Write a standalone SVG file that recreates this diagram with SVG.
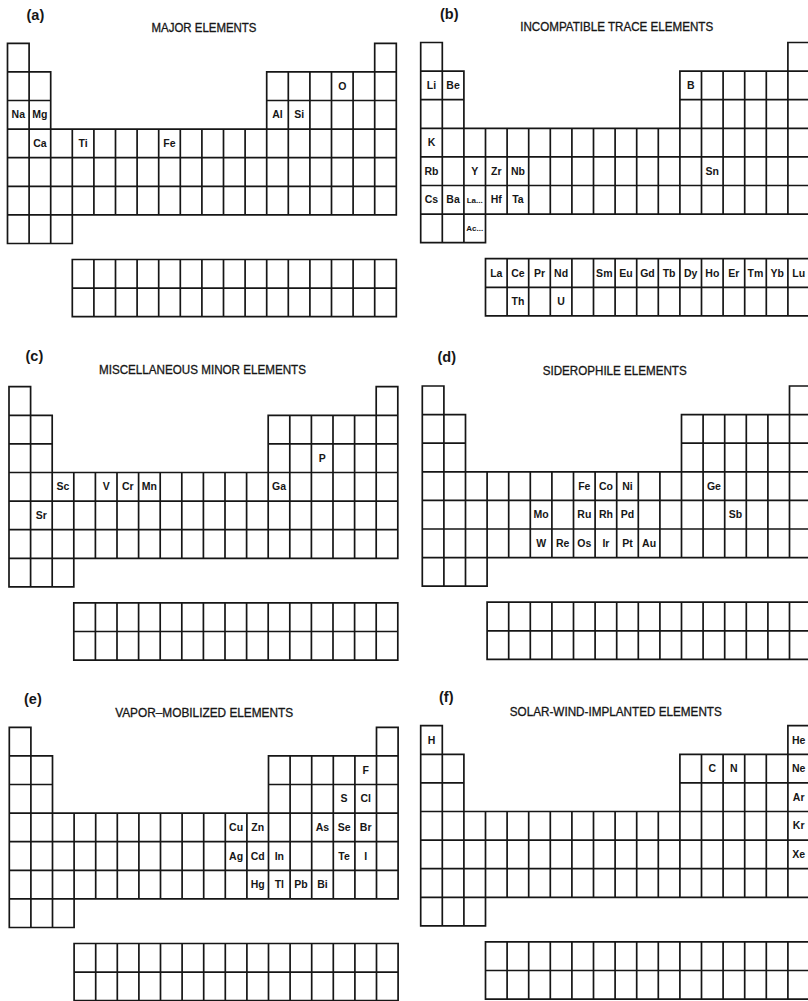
<svg xmlns="http://www.w3.org/2000/svg" xmlns:xlink="http://www.w3.org/1999/xlink" width="808" height="1001" viewBox="0 0 808 1001">
<style>
.grid{fill:none;stroke:#161616;stroke-width:1.7;stroke-linecap:square}
.el{font-family:"Liberation Sans",Arial,sans-serif;font-weight:bold;font-size:10.5px;text-anchor:middle;fill:#161616}
.sm{font-family:"Liberation Sans",Arial,sans-serif;font-weight:bold;font-size:8px;text-anchor:middle;fill:#161616}
.lab{font-family:"Liberation Sans",Arial,sans-serif;font-weight:bold;font-size:14.5px;fill:#161616}
.ttl{font-family:"Liberation Sans",Arial,sans-serif;font-size:12px;text-anchor:middle;fill:#161616;stroke:#161616;stroke-width:0.3}
</style>
<defs>
<path id="ptable" class="grid" d="M0 0H21.6M367.2 0H388.8M0 28.6H43.2M259.2 28.6H388.8M0 57.2H43.2M259.2 57.2H388.8M0 85.8H388.8M0 114.4H388.8M0 143H388.8M0 171.6H388.8M0 200.2H64.8M0 0V200.2M21.6 0V200.2M43.2 28.6V200.2M64.8 85.8V200.2M86.4 85.8V171.6M108 85.8V171.6M129.6 85.8V171.6M151.2 85.8V171.6M172.8 85.8V171.6M194.4 85.8V171.6M216 85.8V171.6M237.6 85.8V171.6M259.2 28.6V171.6M280.8 28.6V171.6M302.4 28.6V171.6M324 28.6V171.6M345.6 28.6V171.6M367.2 0V171.6M388.8 0V171.6M64.8 216.2H388.8M64.8 244.8H388.8M64.8 273.4H388.8M64.8 216.2V273.4M86.4 216.2V273.4M108 216.2V273.4M129.6 216.2V273.4M151.2 216.2V273.4M172.8 216.2V273.4M194.4 216.2V273.4M216 216.2V273.4M237.6 216.2V273.4M259.2 216.2V273.4M280.8 216.2V273.4M302.4 216.2V273.4M324 216.2V273.4M345.6 216.2V273.4M367.2 216.2V273.4M388.8 216.2V273.4"/>
</defs>

<g id="panel-a">
<text class="lab" x="26.5" y="19.7">(a)</text>
<text class="ttl" x="204" y="31.5" textLength="105" lengthAdjust="spacingAndGlyphs">MAJOR ELEMENTS</text>
<g transform="translate(7.5,43.3)">
<use xlink:href="#ptable"/>
<text class="el" x="334.8" y="46.5">O</text>
<text class="el" x="10.8" y="75.1">Na</text>
<text class="el" x="32.4" y="75.1">Mg</text>
<text class="el" x="270" y="75.1">Al</text>
<text class="el" x="291.6" y="75.1">Si</text>
<text class="el" x="32.4" y="103.7">Ca</text>
<text class="el" x="75.6" y="103.7">Ti</text>
<text class="el" x="162" y="103.7">Fe</text>
</g>
</g>

<g id="panel-b">
<text class="lab" x="440" y="19">(b)</text>
<text class="ttl" x="616.7" y="31.3" textLength="193" lengthAdjust="spacingAndGlyphs">INCOMPATIBLE TRACE ELEMENTS</text>
<g transform="translate(420.7,42.5)">
<use xlink:href="#ptable"/>
<text class="el" x="10.8" y="46.5">Li</text>
<text class="el" x="32.4" y="46.5">Be</text>
<text class="el" x="270" y="46.5">B</text>
<text class="el" x="10.8" y="103.7">K</text>
<text class="el" x="10.8" y="132.3">Rb</text>
<text class="el" x="54" y="132.3">Y</text>
<text class="el" x="75.6" y="132.3">Zr</text>
<text class="el" x="97.2" y="132.3">Nb</text>
<text class="el" x="291.6" y="132.3">Sn</text>
<text class="el" x="10.8" y="160.9">Cs</text>
<text class="el" x="32.4" y="160.9">Ba</text>
<text class="sm" x="54" y="160">La...</text>
<text class="el" x="75.6" y="160.9">Hf</text>
<text class="el" x="97.2" y="160.9">Ta</text>
<text class="sm" x="54" y="188">Ac...</text>
<text class="el" x="75.6" y="234.1">La</text>
<text class="el" x="97.2" y="234.1">Ce</text>
<text class="el" x="118.8" y="234.1">Pr</text>
<text class="el" x="140.4" y="234.1">Nd</text>
<text class="el" x="183.6" y="234.1">Sm</text>
<text class="el" x="205.2" y="234.1">Eu</text>
<text class="el" x="226.8" y="234.1">Gd</text>
<text class="el" x="248.4" y="234.1">Tb</text>
<text class="el" x="270" y="234.1">Dy</text>
<text class="el" x="291.6" y="234.1">Ho</text>
<text class="el" x="313.2" y="234.1">Er</text>
<text class="el" x="334.8" y="234.1">Tm</text>
<text class="el" x="356.4" y="234.1">Yb</text>
<text class="el" x="378" y="234.1">Lu</text>
<text class="el" x="97.2" y="262.7">Th</text>
<text class="el" x="140.4" y="262.7">U</text>
</g>
</g>

<g id="panel-c">
<text class="lab" x="25.5" y="360.5">(c)</text>
<text class="ttl" x="202.5" y="374" textLength="207" lengthAdjust="spacingAndGlyphs">MISCELLANEOUS MINOR ELEMENTS</text>
<g transform="translate(9,386.7)">
<use xlink:href="#ptable"/>
<text class="el" x="313.2" y="75.1">P</text>
<text class="el" x="54" y="103.7">Sc</text>
<text class="el" x="97.2" y="103.7">V</text>
<text class="el" x="118.8" y="103.7">Cr</text>
<text class="el" x="140.4" y="103.7">Mn</text>
<text class="el" x="270" y="103.7">Ga</text>
<text class="el" x="32.4" y="132.3">Sr</text>
</g>
</g>

<g id="panel-d">
<text class="lab" x="437.5" y="362">(d)</text>
<text class="ttl" x="614.7" y="375" textLength="144" lengthAdjust="spacingAndGlyphs">SIDEROPHILE ELEMENTS</text>
<g transform="translate(422.3,386)">
<use xlink:href="#ptable"/>
<text class="el" x="162" y="103.7">Fe</text>
<text class="el" x="183.6" y="103.7">Co</text>
<text class="el" x="205.2" y="103.7">Ni</text>
<text class="el" x="291.6" y="103.7">Ge</text>
<text class="el" x="118.8" y="132.3">Mo</text>
<text class="el" x="162" y="132.3">Ru</text>
<text class="el" x="183.6" y="132.3">Rh</text>
<text class="el" x="205.2" y="132.3">Pd</text>
<text class="el" x="313.2" y="132.3">Sb</text>
<text class="el" x="118.8" y="160.9">W</text>
<text class="el" x="140.4" y="160.9">Re</text>
<text class="el" x="162" y="160.9">Os</text>
<text class="el" x="183.6" y="160.9">Ir</text>
<text class="el" x="205.2" y="160.9">Pt</text>
<text class="el" x="226.8" y="160.9">Au</text>
</g>
</g>

<g id="panel-e">
<text class="lab" x="24" y="703.5">(e)</text>
<text class="ttl" x="204.2" y="716.5" textLength="178" lengthAdjust="spacingAndGlyphs">VAPOR–MOBILIZED ELEMENTS</text>
<g transform="translate(9.3,727.3)">
<use xlink:href="#ptable"/>
<text class="el" x="356.4" y="46.5">F</text>
<text class="el" x="334.8" y="75.1">S</text>
<text class="el" x="356.4" y="75.1">Cl</text>
<text class="el" x="226.8" y="103.7">Cu</text>
<text class="el" x="248.4" y="103.7">Zn</text>
<text class="el" x="313.2" y="103.7">As</text>
<text class="el" x="334.8" y="103.7">Se</text>
<text class="el" x="356.4" y="103.7">Br</text>
<text class="el" x="226.8" y="132.3">Ag</text>
<text class="el" x="248.4" y="132.3">Cd</text>
<text class="el" x="270" y="132.3">In</text>
<text class="el" x="334.8" y="132.3">Te</text>
<text class="el" x="356.4" y="132.3">I</text>
<text class="el" x="248.4" y="160.9">Hg</text>
<text class="el" x="270" y="160.9">Tl</text>
<text class="el" x="291.6" y="160.9">Pb</text>
<text class="el" x="313.2" y="160.9">Bi</text>
</g>
</g>

<g id="panel-f">
<text class="lab" x="439" y="702">(f)</text>
<text class="ttl" x="615.8" y="716" textLength="212" lengthAdjust="spacingAndGlyphs">SOLAR-WIND-IMPLANTED ELEMENTS</text>
<g transform="translate(420.7,725.7)">
<use xlink:href="#ptable"/>
<text class="el" x="10.8" y="17.9">H</text>
<text class="el" x="378" y="17.9">He</text>
<text class="el" x="291.6" y="46.5">C</text>
<text class="el" x="313.2" y="46.5">N</text>
<text class="el" x="378" y="46.5">Ne</text>
<text class="el" x="378" y="75.1">Ar</text>
<text class="el" x="378" y="103.7">Kr</text>
<text class="el" x="378" y="132.3">Xe</text>
</g>
</g>
</svg>
